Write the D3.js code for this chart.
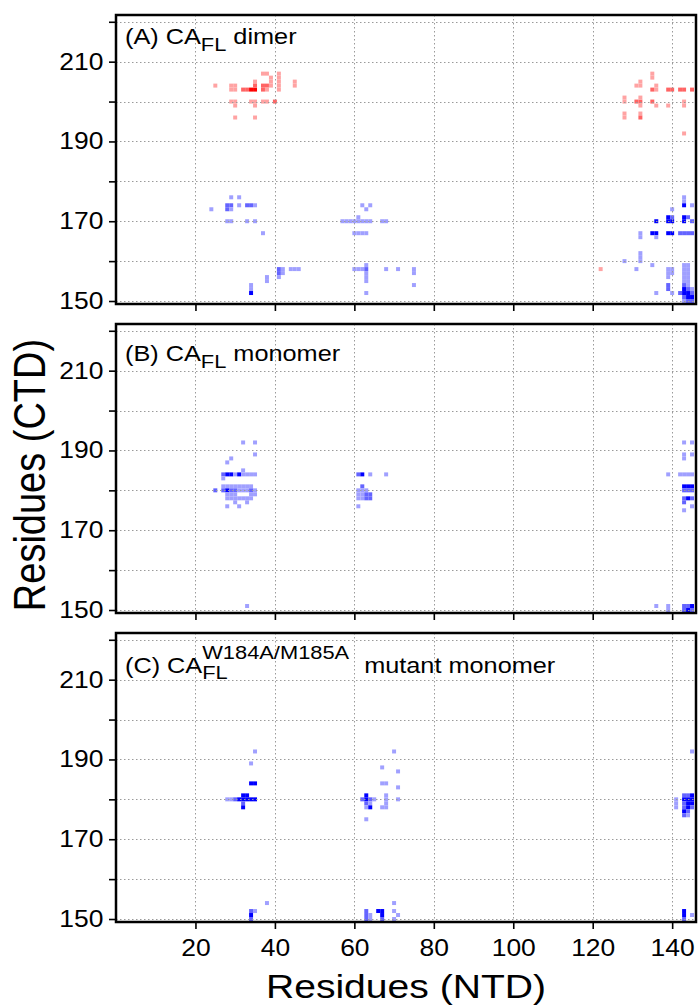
<!DOCTYPE html>
<html>
<head>
<meta charset="utf-8">
<script src="https://cdn.jsdelivr.net/npm/d3@7"></script>
<style>
body { margin: 0; background: #fff; }
svg { display: block; font-family: "Liberation Sans", Arial, sans-serif; }
</style>
</head>
<body>
<div class="chart"></div>
<script>
// Contact maps: each entry is [NTD residue, CTD residue, intensity level 1-3]
var dimerRed = [
    [25,204,1],[29,204,1],[30,204,1],[29,203,1],[30,203,1],[32,203,2],[33,203,2],[34,203,3],[35,203,3],
    [35,205,1],[35,204,2],[37,207,1],[38,207,1],[37,204,2],[37,203,2],[38,204,2],[38,203,1],
    [39,206,1],[39,205,1],[39,204,1],[41,207,1],[41,206,1],[41,205,1],[41,204,1],[41,203,1],
    [45,205,1],[45,204,1],
    [29,200,1],[30,200,1],[34,200,1],[35,200,1],[37,200,1],[38,200,1],[40,200,2],
    [30,199,1],[35,199,1],[30,196,1],[35,196,1],
    [135,207,1],[135,206,1],[131,204,1],[132,204,1],[132,205,1],[136,204,1],[136,203,1],[135,203,2],
    [139,203,2],[140,203,2],[142,203,2],[143,203,2],[145,203,2],
    [128,201,1],[128,200,1],[131,200,2],[132,200,2],[132,201,1],[132,199,1],
    [135,200,2],[136,199,1],[139,199,1],[143,200,1],[143,199,1],
    [128,197,1],[128,196,1],[132,197,1],[132,196,2],[143,192,1],
    [122,158,1]
];

var dimerBlue = [
    [24,173,1],[29,176,1],[31,176,1],[28,174,2],[29,174,2],[28,173,2],[29,173,1],
    [31,174,1],[33,174,2],[34,174,2],[35,174,1],[28,170,1],[29,170,1],[33,170,1],[35,170,1],
    [37,167,1],[34,154,1],[34,153,1],[34,152,3],[38,156,1],[38,155,1],
    [41,158,2],[42,158,1],[41,157,2],[42,157,1],[41,156,1],[44,158,1],[45,158,1],[46,158,1],
    [57,170,1],[58,170,1],[59,170,1],[60,170,1],[61,170,1],[62,170,1],[63,170,1],[64,170,1],
    [61,171,1],[62,174,1],[63,173,1],[64,174,1],[60,167,1],[61,167,1],[62,167,1],[63,167,1],
    [67,170,1],[68,170,1],
    [60,158,1],[61,158,1],[62,158,1],[63,159,1],[63,158,2],[63,157,1],[63,156,1],[63,155,1],
    [63,152,1],[68,158,1],[71,158,1],[75,158,1],[75,157,1],[75,154,1],
    [128,160,1],[131,158,1],[132,167,1],[132,166,1],[132,162,1],[132,161,1],[132,160,1],
    [135,167,3],[136,167,3],[136,166,1],[136,170,3],[135,159,1],
    [139,171,3],[140,171,2],[139,170,3],[140,170,3],[139,167,3],[140,167,3],[140,173,1],
    [139,158,1],[140,158,1],[139,157,1],[140,157,1],[139,156,1],
    [139,154,2],[139,153,2],[136,152,1],[140,152,1],
    [143,176,1],[143,175,1],[143,174,3],[145,174,1],
    [143,171,3],[143,170,3],[144,171,2],[145,170,2],
    [142,167,2],[143,167,2],[144,167,2],[145,167,2],
    [143,159,1],[144,159,1],[143,158,1],[144,158,1],[143,157,1],[144,157,1],[143,156,1],[144,156,1],
    [143,155,1],[144,155,1],[143,154,2],[144,154,1],[143,153,3],[144,153,2],[145,153,1],
    [142,152,2],[143,152,3],[144,152,3],[145,152,2],[143,151,2],[144,151,3],[145,151,3],
    [143,150,1],[144,150,2],[145,150,2]
];

var monomerBlue = [
    [32,192,1],[35,192,1],[35,189,1],[29,188,1],[28,187,1],
    [27,184,2],[28,184,3],[29,184,3],[30,184,1],[31,184,3],[32,184,1],[33,184,1],[34,184,1],[35,184,1],
    [32,185,1],[27,183,1],
    [27,181,1],[28,181,1],[29,181,1],[30,181,1],[31,181,1],[32,181,1],[33,181,1],[34,181,1],
    [25,180,2],[27,180,2],[28,180,3],[29,180,2],[30,180,2],[31,180,1],[32,180,1],[33,180,1],[34,180,2],[35,180,1],
    [28,179,1],[29,179,1],[30,179,1],[34,179,1],[35,179,1],
    [28,178,1],[29,178,1],[30,178,1],[31,178,1],[32,178,1],[33,178,1],[34,178,1],
    [30,177,1],[33,177,1],[28,176,1],[31,176,1],[33,151,1],
    [61,184,2],[62,184,3],[64,184,1],[68,184,1],[62,181,2],
    [61,180,1],[62,180,1],[63,180,1],[61,179,1],[62,179,1],[63,179,2],[64,179,2],
    [61,178,1],[62,178,1],[63,178,2],[64,178,2],[61,176,1],
    [143,192,1],[145,192,1],[143,189,1],[143,188,1],[145,189,1],
    [139,184,1],[142,184,1],[143,184,1],[144,184,1],[145,184,1],
    [143,181,3],[144,181,3],[145,181,3],[143,180,2],[144,180,2],[145,180,2],
    [143,178,2],[143,177,2],[144,178,3],[145,178,2],[145,176,1],[143,175,1],
    [136,151,1],[139,151,1],[139,150,1],[143,151,2],[144,151,2],[145,151,3],[143,150,2],[144,150,3],[145,150,2]
];

var mutantBlue = [
    [35,192,1],[34,189,1],[34,184,3],[35,184,3],
    [28,180,1],[29,180,1],[30,180,2],[31,180,3],[32,180,3],[33,180,3],[34,180,3],[35,180,3],
    [32,181,3],[33,181,3],[32,179,2],[32,178,3],
    [34,152,2],[35,152,1],[34,151,3],[34,150,2],[38,154,1],
    [62,180,2],[63,181,3],[63,180,3],[64,180,2],[65,180,1],
    [63,179,2],[63,178,1],[64,179,1],[64,178,3],[63,175,1],
    [67,184,1],[68,184,1],[67,188,1],[68,181,1],[68,180,1],[68,179,1],[67,178,1],[68,178,1],
    [70,192,1],[71,187,1],[71,183,1],[71,180,1],
    [63,152,2],[63,151,2],[63,150,2],[64,151,1],[64,150,1],[66,152,3],[67,152,3],[67,151,3],[67,150,2],
    [70,154,1],[70,152,1],[71,151,1],[70,150,1],
    [145,192,1],[141,180,1],[141,179,1],[141,178,1],
    [143,181,2],[144,181,2],[145,181,3],[143,180,3],[144,180,3],[145,180,3],
    [143,179,2],[144,179,3],[145,179,3],[143,178,2],[144,178,3],[145,178,2],
    [143,177,3],[144,177,2],[143,176,2],[144,176,1],
    [143,152,3],[143,151,3],[143,150,2],[145,151,1]
];

// Axis ticks
var ntdTicks = [20, 40, 60, 80, 100, 120, 140];
var ctdTicks = [150, 160, 170, 180, 190, 200, 210, 220];
var ctdLabels = [150, 170, 190, 210];

// Shades for intensity levels 1-3
var blueShades = ["#a0a0ff", "#6464ff", "#0000ff"];
var redShades = ["#ffa3a3", "#ff6464", "#ff0000"];

var panels = [
    {label: "(A)", tail: " dimer", baseline: 29, layers: [[dimerBlue, blueShades], [dimerRed, redShades]]},
    {label: "(B)", tail: " monomer", baseline: 37, layers: [[monomerBlue, blueShades]]},
    {label: "(C)", tail: "mutant monomer", sup: "W184A/M185A", baseline: 40, layers: [[mutantBlue, blueShades]]}
];

var svgWidth = 699;
var svgHeight = 1006;
var margin = {left: 116, top: 15};
var plotWidth = 580;
var plotHeight = 289;
var panelStep = 309;
var stretch = "scale(1.15,1)";

var svg = d3.select(".chart")
    .append("svg")
    .attr("width", svgWidth)
    .attr("height", svgHeight);

var xScale = d3.scaleLinear().domain([0, 146]).range([0, plotWidth]);
var yScale = d3.scaleLinear().domain([149.25, 221.7]).range([plotHeight, 0]);
var cellW = xScale(1) - xScale(0);
var cellH = yScale(0) - yScale(1);

panels.forEach(function(panel, i) {
    var g = svg.append("g")
        .attr("transform", "translate(" + margin.left + "," + (margin.top + i * panelStep) + ")");

    // heat cells
    panel.layers.forEach(function(layer) {
        g.append("g").selectAll("rect")
            .data(layer[0])
            .enter().append("rect")
            .attr("x", d => xScale(d[0] - 0.5))
            .attr("y", d => yScale(d[1] + 0.5))
            .attr("width", cellW)
            .attr("height", cellH)
            .attr("fill", d => layer[1][d[2] - 1]);
    });

    // dotted grid on top of cells
    var grid = g.append("g")
        .attr("stroke", "#9a9a9a")
        .attr("stroke-width", 1)
        .attr("stroke-dasharray", "1.5,2.5");
    grid.selectAll(".vx").data(ntdTicks).enter().append("line")
        .attr("x1", d => Math.round(xScale(d)) + 0.5).attr("x2", d => Math.round(xScale(d)) + 0.5)
        .attr("y1", 0).attr("y2", plotHeight);
    grid.selectAll(".hy").data(ctdTicks).enter().append("line")
        .attr("y1", d => Math.round(yScale(d)) + 0.5).attr("y2", d => Math.round(yScale(d)) + 0.5)
        .attr("x1", 0).attr("x2", plotWidth);

    var leftAxis = d3.axisLeft(yScale)
        .tickValues(ctdTicks)
        .tickSize(7)
        .tickPadding(4)
        .tickFormat(d => ctdLabels.indexOf(d) >= 0 ? d : "");

    var bottomAxis = d3.axisBottom(xScale)
        .tickValues(ntdTicks)
        .tickSize(7)
        .tickPadding(11)
        .tickFormat(d => i === panels.length - 1 ? d : "");

    var ly = g.append("g").call(leftAxis);
    var lx = g.append("g").attr("transform", "translate(0," + plotHeight + ")").call(bottomAxis);

    [ly, lx].forEach(function(ax) {
        ax.select(".domain").remove();
        ax.selectAll("line").attr("stroke", "#000").attr("stroke-width", 1.6);
        ax.selectAll("text")
            .attr("fill", "#000")
            .style("font-size", "23px")
            .style("font-family", "'Liberation Sans', Arial, sans-serif")
            .attr("transform", stretch);
    });

    // frame
    g.append("rect")
        .attr("width", plotWidth)
        .attr("height", plotHeight)
        .attr("fill", "none")
        .attr("stroke", "#000")
        .attr("stroke-width", 2.5);

    // panel title
    var t = g.append("text")
        .attr("transform", "translate(9," + panel.baseline + ") " + stretch)
        .style("font-size", "22px");
    t.append("tspan").text(panel.label + " CA");

    if (!panel.sup) {
        t.append("tspan").attr("dy", 7).style("font-size", "19px").text("FL");
        t.append("tspan").attr("dy", -7).text(panel.tail);
    } else {
        var endX = 9 + t.node().getComputedTextLength() * 1.15;
        var sup = g.append("text")
            .attr("transform", "translate(" + endX + "," + (panel.baseline - 14) + ") " + stretch)
            .style("font-size", "19px")
            .text(panel.sup);
        g.append("text")
            .attr("transform", "translate(" + endX + "," + (panel.baseline + 6) + ") " + stretch)
            .style("font-size", "19px")
            .text("FL");
        var supEnd = endX + sup.node().getComputedTextLength() * 1.15;
        g.append("text")
            .attr("transform", "translate(" + (supEnd + 15) + "," + panel.baseline + ") " + stretch)
            .style("font-size", "22px")
            .text(panel.tail);
    }
});

// axis titles
svg.append("text")
    .attr("transform", "translate(" + (margin.left + plotWidth / 2) + ",998) " + stretch)
    .attr("text-anchor", "middle")
    .style("font-size", "34px")
    .text("Residues (NTD)");

svg.append("text")
    .attr("transform", "translate(30,475) scale(1.15,1) rotate(-90)")
    .attr("text-anchor", "middle")
    .attr("dy", "0.35em")
    .style("font-size", "38px")
    .text("Residues (CTD)");
</script>
</body>
</html>
